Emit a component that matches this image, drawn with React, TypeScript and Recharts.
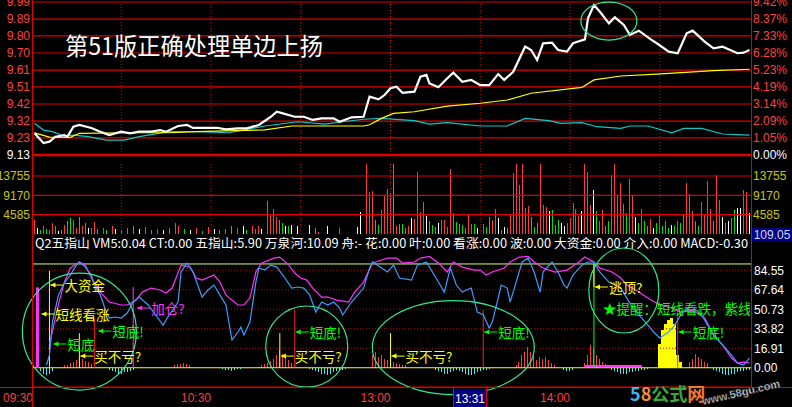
import React from 'react';
import { ComposedChart, Line, Bar, XAxis, YAxis, ReferenceLine, ReferenceDot } from 'recharts';

const N = 240;
const AX_FONT = '"Liberation Sans", Arial, sans-serif';
const CJK = '"Noto Sans CJK SC", "Noto Sans", sans-serif';

// ---------- price panel ----------
const BASE_PRICE = 9.13;
const priceLabels = ['9.13', '9.23', '9.32', '9.42', '9.51', '9.61', '9.70', '9.80', '9.89', '9.99'];
const pctLabels = ['0.00%', '1.05%', '2.09%', '3.14%', '4.19%', '5.23%', '6.28%', '7.33%', '8.37%', '9.42%'];
const gridIdx = [29, 59, 89, 119, 149, 179, 209];

const pricePts: [number, number][] = [
  [0, 9.252], [3, 9.197], [5, 9.205], [7, 9.233], [10, 9.242], [11, 9.233], [13, 9.289], [15, 9.299], [19, 9.282],
  [22, 9.261], [25, 9.242], [29, 9.261], [32, 9.252], [35, 9.261], [39, 9.261], [42, 9.27], [44, 9.261], [48, 9.293],
  [51, 9.299], [53, 9.282], [58, 9.283], [61, 9.283], [64, 9.274], [68, 9.28], [71, 9.28], [75, 9.299], [79, 9.345],
  [81, 9.373], [83, 9.364], [87, 9.345], [90, 9.345], [93, 9.327], [96, 9.336], [100, 9.336], [102, 9.317], [106, 9.342],
  [110, 9.345], [112, 9.458], [115, 9.443], [117, 9.467], [119, 9.505], [121, 9.514], [123, 9.48], [127, 9.486],
  [129, 9.57], [131, 9.58], [132, 9.533], [135, 9.511], [138, 9.561], [140, 9.593], [143, 9.542], [146, 9.552],
  [149, 9.523], [152, 9.523], [155, 9.585], [157, 9.552], [160, 9.598], [164, 9.739], [166, 9.72], [168, 9.664],
  [170, 9.758], [173, 9.761], [175, 9.72], [178, 9.711], [180, 9.758], [184, 9.78], [185, 9.898], [187, 9.973],
  [189, 9.935], [192, 9.87], [194, 9.904], [197, 9.861], [199, 9.805], [202, 9.829], [206, 9.78], [208, 9.758],
  [212, 9.711], [215, 9.702], [218, 9.814], [220, 9.829], [224, 9.767], [227, 9.73], [230, 9.739], [235, 9.702],
  [237, 9.705], [239, 9.72],
];
const avgPts: [number, number][] = [
  [0, 9.254], [5, 9.231], [12, 9.229], [15, 9.252], [32, 9.255], [45, 9.255], [54, 9.261], [77, 9.271], [86, 9.293],
  [110, 9.293], [112, 9.3], [116, 9.336], [120, 9.364], [127, 9.373], [138, 9.405], [149, 9.421], [158, 9.439],
  [166, 9.477], [183, 9.51], [187, 9.552], [196, 9.574], [208, 9.585], [227, 9.604], [239, 9.612],
];
const cyanPts: [number, number][] = [
  [0, 9.308], [3, 9.27], [6, 9.261], [10, 9.237], [13, 9.242], [18, 9.233], [24, 9.214], [30, 9.214], [35, 9.233],
  [45, 9.261], [54, 9.261], [65, 9.255], [77, 9.293], [88, 9.317], [97, 9.304], [103, 9.317], [110, 9.331],
  [116, 9.336], [127, 9.323], [132, 9.304], [138, 9.312], [149, 9.293], [158, 9.293], [164, 9.336], [172, 9.323],
  [176, 9.308], [183, 9.312], [188, 9.289], [196, 9.28], [199, 9.293], [205, 9.293], [213, 9.255], [217, 9.28],
  [223, 9.28], [230, 9.248], [239, 9.242],
];
const topRing: [number, number, number, number] = [192, 9.883, 28, 19];

// ---------- volume panel ----------
const VOL_MAX = 16600;
const volTicks = [4585, 9170, 13755];
const volPts: [number, number, string][] = [
  [0, 3220, 'r'], [1, 1500, 'w'], [2, 1000, 'g'], [3, 2000, 'r'], [4, 1200, 'g'], [5, 1000, 'r'], [6, 2500, 'r'],
  [7, 1800, 'g'], [8, 800, 'w'], [9, 1000, 'g'], [10, 2200, 'r'], [11, 3000, 'g'], [12, 3700, 'g'], [13, 3220, 'r'],
  [14, 1500, 'r'], [15, 3940, 'g'], [16, 2000, 'r'], [17, 2500, 'g'], [18, 1500, 'w'], [19, 1500, 'r'], [20, 2800, 'r'],
  [21, 1200, 'g'], [23, 1500, 'r'], [24, 1000, 'g'], [26, 1800, 'r'], [27, 1200, 'w'], [29, 900, 'g'], [31, 1500, 'r'],
  [33, 2000, 'g'], [35, 1300, 'w'], [37, 1600, 'r'], [39, 1000, 'g'], [41, 1200, 'r'], [43, 900, 'w'], [45, 1500, 'g'],
  [47, 2600, 'r'], [48, 1800, 'r'], [50, 1200, 'g'], [52, 1000, 'w'], [54, 1400, 'r'], [56, 800, 'g'], [58, 1700, 'r'],
  [60, 1100, 'w'], [62, 900, 'g'], [64, 1300, 'r'], [66, 2000, 'g'], [68, 1500, 'r'], [70, 1800, 'w'], [71, 1000, 'g'],
  [73, 1790, 'r'], [74, 1240, 'r'], [75, 1790, 'r'], [76, 1150, 'w'], [78, 7760, 'r'], [79, 4180, 'r'], [80, 5850, 'r'],
  [81, 3940, 'r'], [82, 3220, 'g'], [83, 2500, 'g'], [84, 1790, 'w'], [85, 1790, 'g'], [86, 2030, 'w'], [88, 1790, 'w'],
  [92, 2030, 'w'], [94, 1430, 'g'], [95, 500, 'r'], [98, 1790, 'w'], [102, 1310, 'r'], [108, 1550, 'w'], [109, 5130, 'w'],
  [111, 16600, 'r'], [112, 9900, 'r'], [113, 10140, 'r'], [114, 3220, 'g'], [115, 2030, 'g'], [116, 5610, 'r'],
  [117, 8950, 'r'], [118, 10620, 'r'], [119, 9670, 'r'], [120, 16600, 'g'], [121, 1790, 'r'], [122, 2270, 'g'],
  [123, 2270, 'g'], [124, 1310, 'g'], [125, 1790, 'r'], [126, 3700, 'w'], [127, 3460, 'r'], [128, 14700, 'r'],
  [129, 5130, 'r'], [130, 7520, 'r'], [131, 4180, 'w'], [132, 2980, 'g'], [133, 2030, 'g'], [134, 1550, 'g'],
  [135, 2500, 'w'], [136, 3220, 'r'], [137, 3220, 'r'], [138, 1550, 'r'], [139, 15400, 'r'], [140, 4900, 'r'],
  [141, 2740, 'g'], [142, 2270, 'g'], [143, 2030, 'g'], [144, 1310, 'g'], [145, 4650, 'r'], [146, 2270, 'r'],
  [147, 2270, 'g'], [148, 1310, 'w'], [150, 2270, 'r'], [151, 1550, 'g'], [152, 3940, 'g'], [153, 3220, 'r'],
  [154, 5850, 'r'], [155, 3700, 'w'], [156, 950, 'g'], [157, 1550, 'w'], [158, 1310, 'g'], [159, 4420, 'r'],
  [160, 14450, 'r'], [161, 16600, 'r'], [162, 11580, 'r'], [163, 16600, 'r'], [164, 6090, 'r'], [165, 6570, 'r'],
  [166, 3940, 'g'], [167, 1550, 'g'], [168, 2500, 'g'], [169, 16600, 'r'], [170, 6800, 'r'], [171, 6330, 'r'],
  [172, 5370, 'w'], [173, 5610, 'g'], [174, 2030, 'g'], [175, 3220, 'g'], [176, 2500, 'w'], [177, 1790, 'w'],
  [178, 2500, 'r'], [179, 3700, 'r'], [180, 7280, 'r'], [181, 5850, 'r'], [182, 4180, 'r'], [183, 5370, 'w'],
  [184, 16600, 'r'], [185, 14700, 'r'], [186, 6800, 'r'], [187, 10380, 'w'], [188, 5370, 'g'],
  [189, 3000, 'r'], [190, 5600, 'r'], [191, 2000, 'g'], [192, 3200, 'g'], [193, 14000, 'r'], [194, 16600, 'r'],
  [195, 9000, 'r'], [196, 12000, 'r'], [197, 7000, 'r'], [198, 5000, 'g'], [199, 13000, 'r'], [200, 9000, 'r'],
  [201, 4000, 'w'], [202, 2500, 'g'], [203, 6000, 'r'], [204, 3000, 'g'], [205, 2000, 'g'], [206, 3500, 'r'],
  [207, 1500, 'w'], [208, 2500, 'g'], [209, 4500, 'r'], [210, 2000, 'g'], [211, 3000, 'r'], [212, 1500, 'g'],
  [213, 2200, 'w'], [214, 1800, 'g'], [215, 3200, 'r'], [216, 2500, 'g'], [217, 4800, 'r'], [218, 12000, 'r'],
  [219, 9500, 'r'], [220, 5500, 'r'], [221, 3000, 'g'], [222, 2000, 'g'], [223, 7500, 'r'], [224, 4500, 'r'],
  [225, 12500, 'r'], [226, 6000, 'r'], [227, 3000, 'g'], [228, 14000, 'r'], [229, 8000, 'r'], [230, 4000, 'w'],
  [231, 2500, 'g'], [232, 3000, 'w'],
  [233, 3700, 'g'], [234, 5610, 'g'], [235, 6090, 'w'], [236, 6090, 'w'], [237, 10380, 'r'], [238, 9900, 'r'], [239, 5000, 'w'],
];

// ---------- indicator panel ----------
const IND_MIN = -16.7;
const IND_MAX = 96.9;
const indTicks = [0, 16.91, 33.82, 50.73, 67.64, 84.55];
const indUpper = 90;
const timeTicks = [0, 59, 119, 179];
const timeLabels = ['09:30', '10:30', '13:00', '14:00'];

const bluePts: [number, number][] = [
  [4, 2.3], [5, 11], [6, 39.6], [8, 63], [10, 73.5], [12, 80.4], [14, 89], [15, 91.7], [17, 87.3], [19, 80.4],
  [20, 71.7], [22, 63], [24, 48.3], [25, 43.1], [27, 44], [29, 43.1], [31, 47.4], [33, 57], [35, 61.3], [38, 54.4],
  [41, 44], [43, 37], [45, 45.7], [48, 57], [49, 83], [51, 90.8], [53, 83], [56, 61.3], [58, 67.4], [60, 71.7],
  [62, 63], [64, 54.4], [66, 24], [68, 31], [69, 35.3], [70, 28.4], [72, 39.6], [74, 74.3], [75, 86.5], [77, 84.7],
  [79, 89], [81, 87.3], [83, 80.4], [86, 69.1], [88, 70], [90, 69.1], [92, 63], [94, 48.3], [96, 57], [98, 54.4],
  [100, 57], [102, 51.8], [103, 45.7], [106, 57], [108, 63], [110, 69.1], [112, 86.5], [113, 91.7], [116, 86.5],
  [118, 83], [120, 89], [122, 77.8], [126, 76], [128, 89], [131, 91.7], [135, 74.3], [137, 65.6], [139, 86.5],
  [141, 71.7], [143, 65.6], [146, 69.1], [148, 48.3], [150, 46], [152, 34.4], [153, 39.6], [155, 60.4], [156, 71.7],
  [158, 69.1], [159, 57], [160, 65.6], [163, 91.7], [165, 95], [167, 83], [169, 65.6], [170, 83], [173, 91.7],
  [175, 83], [177, 71.7], [178, 69.1], [180, 80.4], [183, 89], [185, 91.7], [187, 91.7], [189, 83], [192, 74.3],
  [194, 71.7], [196, 69.1], [198, 60.4], [200, 51.8], [203, 43.1], [205, 37], [207, 31], [209, 25.8], [212, 31],
  [214, 37], [216, 45.7], [218, 51.8], [220, 52.6], [223, 45.7], [225, 37], [227, 28.4], [230, 19.7], [233, 11],
  [235, 4], [237, 2.3], [239, 8.4],
];
const magentaPts: [number, number][] = [
  [5, 20], [8, 55], [10, 74.3], [12, 86.5], [15, 91.7], [17, 89], [19, 77.8], [22, 65.6], [25, 57], [29, 54.4],
  [31, 54.4], [34, 58.7], [36, 65.6], [39, 69.1], [42, 67.4], [44, 64.8], [46, 69.1], [49, 89], [52, 87.3], [54, 77.8],
  [56, 76], [60, 80.4], [62, 74.3], [64, 63], [68, 54.4], [70, 54.4], [72, 60.4], [74, 83], [76, 90.8], [80, 95.1],
  [82, 96], [85, 89], [87, 82.1], [89, 77.8], [91, 76], [93, 69.1], [96, 61.3], [98, 61.3], [101, 58.7], [105, 57],
  [107, 65.6], [110, 74.3], [113, 90.8], [116, 93.4], [118, 95.1], [121, 95.1], [123, 90.8], [127, 91.7], [129, 95.1],
  [132, 96.5], [135, 90.8], [138, 83], [140, 91.7], [143, 87.3], [147, 84.7], [149, 84.7], [151, 80.4], [153, 83],
  [157, 86.5], [159, 91.7], [162, 96], [165, 96.5], [167, 91.7], [170, 86.5], [174, 83], [178, 84.7], [182, 91.7],
  [184, 96], [187, 91.7], [189, 86.5], [193, 83], [196, 77.8], [198, 71.7], [202, 65.6], [205, 60.4], [209, 54.4],
  [213, 51.8], [216, 48.3], [220, 50], [224, 43.1], [227, 28.4], [230, 19.7], [233, 8.4], [235, 4], [237, 4.9], [239, 4],
];
const histPts: [number, number, string][] = [
  [2, -3, 'c'], [3, -5, 'c'], [4, -6, 'c'], [5, -5, 'c'], [6, -3, 'c'],
  [10, 2, 'r'], [11, 2, 'r'], [12, 4, 'r'], [13, 5, 'r'], [14, 7, 'r'], [15, 9, 'r'], [16, 8, 'r'], [17, 6, 'r'], [18, 5, 'r'], [19, 3, 'r'],
  [25, -2, 'c'], [26, -3, 'c'], [27, -4, 'c'], [28, -5, 'c'], [29, -5, 'c'], [30, -4, 'c'], [31, -4, 'c'], [32, -3, 'c'], [33, -2, 'c'],
  [47, 2, 'r'], [48, 3, 'r'], [49, 3, 'r'], [50, 4, 'r'], [51, 3, 'r'], [52, 2, 'r'],
  [63, -1, 'c'], [64, -2, 'c'], [65, -2, 'c'], [66, -3, 'c'], [67, -2, 'c'], [68, -1, 'c'], [69, -1, 'c'],
  [75, 1, 'r'], [76, 2, 'r'], [77, 3, 'r'], [78, 4, 'r'], [79, 6, 'r'], [80, 8, 'r'], [81, 11, 'r'], [82, 15, 'r'], [83, 12, 'r'],
  [84, 9, 'r'], [85, 7, 'r'], [86, 4, 'r'], [87, 2, 'r'],
  [92, -1, 'c'], [93, -2, 'c'], [94, -3, 'c'], [95, -4, 'c'], [96, -5, 'c'], [97, -5, 'c'], [98, -6, 'c'], [99, -5, 'c'],
  [100, -4, 'c'], [101, -3, 'c'], [102, -2, 'c'], [103, -2, 'c'], [104, -1, 'c'],
  [113, 11, 'r'], [114, 14, 'r'], [115, 9.5, 'r'], [116, 11, 'r'], [117, 8, 'r'], [118, 6.7, 'r'], [119, 6, 'r'],
  [120, 4.7, 'r'], [121, 4, 'r'], [122, 3, 'r'], [123, 2.3, 'r'], [124, 2, 'r'],
  [134, -2, 'c'], [135, -3, 'c'], [136, -4, 'c'], [137, -5, 'c'], [138, -5, 'c'], [139, -4, 'c'], [140, -3, 'c'],
  [141, -2, 'c'], [142, -3, 'c'], [143, -4, 'c'], [144, -5, 'c'], [145, -6, 'c'], [146, -6, 'c'], [147, -5, 'c'],
  [148, -4, 'c'], [149, -3, 'c'], [150, -2, 'c'], [151, -2, 'c'], [152, -1, 'c'],
  [161, 2.3, 'r'], [162, 5, 'r'], [163, 11, 'r'], [164, 14, 'r'], [165, 18, 'r'], [166, 14, 'r'], [167, 11, 'r'],
  [168, 7, 'r'], [169, 9.5, 'r'], [170, 8, 'r'], [171, 9.5, 'r'], [172, 7, 'r'], [173, 4, 'r'], [174, 2, 'r'],
  [177, -2, 'c'], [178, -3, 'c'], [179, -3, 'c'], [180, -2, 'c'],
  [184, 4, 'r'], [185, 11, 'r'], [186, 20, 'r'], [187, 17, 'r'], [188, 11, 'r'], [189, 8, 'r'], [190, 5, 'r'], [191, 3, 'r'],
  [193, -2, 'c'], [194, -3, 'c'], [195, -4, 'c'], [196, -5, 'c'], [197, -5, 'c'], [198, -5, 'c'], [199, -4, 'c'],
  [200, -4, 'c'], [201, -3, 'c'], [202, -3, 'c'], [203, -2, 'c'], [204, -2, 'c'], [205, -1, 'c'],
  [209, 21, 'y'], [210, 33, 'y'], [211, 38, 'y'], [212, 41, 'y'], [213, 43, 'y'], [214, 38, 'y'], [215, 11, 'y'], [216, 5, 'y'],
  [219, 5, 'r'], [220, 8, 'r'], [221, 12, 'r'], [222, 9.5, 'r'], [223, 8, 'r'], [224, 5, 'r'], [225, 4, 'r'],
  [227, -2, 'c'], [228, -3, 'c'], [229, -4, 'c'], [230, -5, 'c'], [231, -6, 'c'], [232, -6, 'c'], [233, -5, 'c'],
  [234, -5, 'c'], [235, -4, 'c'], [236, -3, 'c'], [237, -3, 'c'], [238, -2, 'c'], [239, -2, 'c'],
];
// vertical signal lines: index, from, to, colour, width
const signals: [number, number, number, string, number][] = [
  [1, 0, 69.7, '#ff30ff', 3], [5, 0, 84, '#ffff00', 1], [15, 0, 30, '#ffff00', 1], [20, 0, 43, '#ff2020', 1],
  [33, 0, 70, '#ff30ff', 1], [82, 0, 30, '#ffff00', 1], [87, 0, 50, '#ff2020', 1], [119, 0, 30, '#ffff00', 1],
  [150, 0, 50, '#ff2020', 1], [187, 0, 90, '#00ff00', 1], [187, 70, 90, '#ffff00', 1], [215, 0, 50, '#ff2020', 1],
];
const magentaBase: [number, number, number] = [184, 203, 1.5];
// annotations: index, value, text, colour, arrow
const notes: [number, number, string, string, boolean][] = [
  [2, 46.6, '短线看涨', '#ffff00', true],
  [5, 71.7, '大资金', '#ffff00', true],
  [6, 20.6, '短底', '#00ff00', true],
  [15, 10.1, '买不亏?', '#ffff00', true],
  [21, 31.8, '短底!', '#00ff00', true],
  [34, 51.8, '加仓?', '#ff30ff', true],
  [82, 10.1, '买不亏?', '#ffff00', true],
  [87, 31, '短底!', '#00ff00', true],
  [119, 10.1, '买不亏?', '#ffff00', true],
  [150, 31, '短底!', '#00ff00', true],
  [187, 70, '逃顶?', '#ffff00', true],
  [190, 51.8, '★提醒：短线看跌，紫线', '#00ff00', false],
  [215, 31, '短底!', '#00ff00', true],
];
// rings: index, value, rx, ry
const rings: [number, number, number, number][] = [
  [15, 31.4, 57, 58.5], [91, 18.4, 41, 40.5], [140, 17.5, 81, 47], [197, 67, 35, 42.5],
];

const titleText = '第51版正确处理单边上扬';
const infoText = 'Q2五指山  VM5:0.04  CT:0.00  五指山:5.90  万泉河:10.09  舟:-  花:0.00  叶:0.00  看涨:0.00  波:0.00  大资金:0.00  介入:0.00  MACD:-0.30';
const cursorValue = '109.05';
const cursorTime = '13:31';

// ---------- table ----------
const rows: any[] = Array.from({ length: N }, (_, i) => ({
  i, price: null, avg: null, cyan: null, vol: 0, vc: 'w', blue: null, mag: null, hist: 0, hc: 'r',
}));
pricePts.forEach(([i, v]) => (rows[i].price = v));
avgPts.forEach(([i, v]) => (rows[i].avg = v));
cyanPts.forEach(([i, v]) => (rows[i].cyan = v));
volPts.forEach(([i, v, c]) => { rows[i].vol = v; rows[i].vc = c; });
bluePts.forEach(([i, v]) => (rows[i].blue = v));
magentaPts.forEach(([i, v]) => (rows[i].mag = v));
histPts.forEach(([i, v, c]) => { rows[i].hist = v; rows[i].hc = c; });

const priceTickVals = pctLabels.map((s) => BASE_PRICE * (1 + parseFloat(s) / 100));
const PRICE_MAX = priceTickVals[priceTickVals.length - 1];

const VOL_COLORS: Record<string, string> = { r: '#ff3c3c', g: '#00e000', w: '#ffffff' };
const HIST_COLORS: Record<string, string> = { r: '#ff3c3c', c: '#40e8ff', y: '#ffff00' };
const RED = '#e00000';

const PriceTickL = (p: any) => (
  <text x={30} y={p.y} dy="0.36em" textAnchor="end" fontSize={12} fontFamily={AX_FONT}
    fill={p.index === 0 ? '#ffffff' : '#ff4040'}>{priceLabels[p.index]}</text>
);
const PriceTickR = (p: any) => (
  <text x={753} y={p.y} dy="0.36em" textAnchor="start" fontSize={12} fontFamily={AX_FONT}
    fill={p.index === 0 ? '#ffffff' : '#ff4040'}>{pctLabels[p.index]}</text>
);
const VolTickL = (p: any) => (
  <text x={30} y={p.y} dy="0.36em" textAnchor="end" fontSize={12} fontFamily={AX_FONT} fill="#c8c800">{p.payload.value}</text>
);
const VolTickR = (p: any) => (
  <text x={753} y={p.y} dy="0.36em" textAnchor="start" fontSize={12} fontFamily={AX_FONT} fill="#c8c800">{p.payload.value}</text>
);
const IndTickR = (p: any) => (
  <text x={754} y={p.y} dy="0.36em" textAnchor="start" fontSize={12} fontFamily={AX_FONT} fill="#ffffff">{p.payload.value.toFixed(2)}</text>
);
const TimeTick = (p: any) => {
  const k = timeTicks.indexOf(p.payload.value);
  return (
    <text x={k === 0 ? 33 : p.x} y={166} textAnchor="end" fontSize={12} fontFamily={AX_FONT} fill="#ff3c3c">{timeLabels[k]}</text>
  );
};

const VolShape = (p: any) => {
  const { x, y, width, height, payload } = p;
  if (!payload || !payload.vol) return <g />;
  return <rect x={Math.round(x + width / 2 - 0.5)} y={y} width={1} height={height} fill={VOL_COLORS[payload.vc]} shapeRendering="crispEdges" />;
};
const HistShape = (p: any) => {
  const { x, y, width, height, payload } = p;
  if (!payload || !payload.hist) return <g />;
  const w = payload.hc === 'y' ? 3 : 1;
  const top = Math.min(y, y + height);
  const h = Math.abs(height);
  return <rect x={Math.round(x + width / 2 - w / 2)} y={top} width={w} height={h} fill={HIST_COLORS[payload.hc]} shapeRendering="crispEdges" />;
};

const ringShape = (rx: number, ry: number) => (p: any) =>
  p.cx == null ? <g /> : <ellipse cx={p.cx} cy={p.cy} rx={rx} ry={ry} fill="none" stroke="#30e890" strokeWidth={1.2} />;

const noteShape = (text: string, color: string, arrow: boolean) => (p: any) => {
  if (p.cx == null) return <g />;
  const x0 = p.cx + 1;
  return (
    <g clipPath="url(#clipInd)">
      {arrow && <line x1={x0} y1={p.cy} x2={x0 + 13} y2={p.cy} stroke={color} strokeWidth={1} />}
      {arrow && <polygon points={`${x0},${p.cy} ${x0 + 5},${p.cy - 2.5} ${x0 + 5},${p.cy + 2.5}`} fill={color} />}
      <text x={arrow ? x0 + 14 : p.cx} y={p.cy} dominantBaseline="central" fill={color} fontSize={13.5} fontFamily={CJK}>{text}</text>
    </g>
  );
};

export default function App() {
  return (
    <div style={{ position: 'fixed', left: 0, top: 0, width: 792, height: 407, background: '#000', overflow: 'hidden' }}>
      {/* price panel */}
      <div style={{ position: 'absolute', left: 0, top: 0 }}>
        <ComposedChart width={792} height={172} data={rows} margin={{ top: 2, right: 0, bottom: 17, left: 0 }}>
          <XAxis dataKey="i" type="category" scale="band" hide />
          <YAxis yAxisId="p" orientation="left" width={33} type="number" domain={[BASE_PRICE, PRICE_MAX]} allowDataOverflow
            ticks={priceTickVals} interval={0} tick={PriceTickL} axisLine={false} tickLine={false} />
          <YAxis yAxisId="pr" orientation="right" width={41} type="number" domain={[BASE_PRICE, PRICE_MAX]} allowDataOverflow
            ticks={priceTickVals} interval={0} tick={PriceTickR} axisLine={false} tickLine={false} />
          {priceTickVals.map((v, k) => (
            <ReferenceLine key={'ph' + k} yAxisId="p" y={v} stroke={RED} strokeWidth={k === 0 ? 2.5 : 1.2} />
          ))}
          {gridIdx.map((g) => (
            <ReferenceLine key={'pv' + g} yAxisId="p" x={g} stroke={RED} strokeDasharray="1 2" />
          ))}
          <Line yAxisId="p" dataKey="cyan" stroke="#10c8c8" strokeWidth={1.2} dot={false} connectNulls isAnimationActive={false} />
          <Line yAxisId="p" dataKey="avg" stroke="#ffff00" strokeWidth={1.2} dot={false} connectNulls isAnimationActive={false} />
          <Line yAxisId="p" dataKey="price" stroke="#ffffff" strokeWidth={2.2} dot={false} connectNulls isAnimationActive={false} />
          <ReferenceDot yAxisId="p" x={topRing[0]} y={topRing[1]} r={1} shape={ringShape(topRing[2], topRing[3])} />
        </ComposedChart>
      </div>

      {/* volume panel */}
      <div style={{ position: 'absolute', left: 0, top: 164 }}>
        <ComposedChart width={792} height={70} data={rows} margin={{ top: 0, right: 0, bottom: 0, left: 0 }}>
          <XAxis dataKey="i" type="category" scale="band" hide />
          <YAxis yAxisId="v" orientation="left" width={33} type="number" domain={[0, VOL_MAX]} allowDataOverflow
            ticks={volTicks} interval={0} tick={VolTickL} axisLine={false} tickLine={false} />
          <YAxis yAxisId="vr" orientation="right" width={41} type="number" domain={[0, VOL_MAX]} allowDataOverflow
            ticks={volTicks} interval={0} tick={VolTickR} axisLine={false} tickLine={false} />
          {volTicks.map((v) => (
            <ReferenceLine key={'vh' + v} yAxisId="v" y={v} stroke={RED} strokeWidth={1.2} />
          ))}
          {gridIdx.map((g) => (
            <ReferenceLine key={'vv' + g} yAxisId="v" x={g} stroke={RED} strokeDasharray="1 2" />
          ))}
          <Bar yAxisId="v" dataKey="vol" barSize={1} shape={VolShape} isAnimationActive={false} />
        </ComposedChart>
      </div>

      {/* indicator panel */}
      <div style={{ position: 'absolute', left: 0, top: 236 }}>
        <ComposedChart width={792} height={171} data={rows} margin={{ top: 20, right: 0, bottom: 0, left: 33 }}>
          <defs>
            <clipPath id="clipInd"><rect x={0} y={0} width={750} height={171} /></clipPath>
          </defs>
          <XAxis dataKey="i" type="category" scale="band" ticks={timeTicks} interval={0} height={20}
            axisLine={{ stroke: RED }} tickLine={false} tick={TimeTick} />
          <YAxis yAxisId="s" orientation="right" width={41} type="number" domain={[IND_MIN, IND_MAX]} allowDataOverflow
            ticks={indTicks} interval={0} tick={IndTickR} axisLine={false} tickLine={false} />
          {indTicks.slice(1).map((v) => (
            <ReferenceLine key={'ih' + v} yAxisId="s" y={v} stroke="#c00000" strokeDasharray="1 2" />
          ))}
          <ReferenceLine yAxisId="s" y={indUpper} stroke="#d8ff70" />
          <ReferenceLine yAxisId="s" y={0} stroke="#ffff00" />
          <Bar yAxisId="s" dataKey="hist" barSize={3} shape={HistShape} isAnimationActive={false} />
          <ReferenceLine yAxisId="s" segment={[{ x: magentaBase[0], y: magentaBase[2] }, { x: magentaBase[1], y: magentaBase[2] }]}
            stroke="#ff30ff" strokeWidth={2} />
          {signals.map(([i, a, b, c, w], k) => (
            <ReferenceLine key={'sg' + k} yAxisId="s" segment={[{ x: i, y: a }, { x: i, y: b }]} stroke={c} strokeWidth={w} />
          ))}
          <Line yAxisId="s" dataKey="mag" stroke="#ff30ff" strokeWidth={1.2} dot={false} connectNulls isAnimationActive={false} />
          <Line yAxisId="s" dataKey="blue" stroke="#3c9cff" strokeWidth={1.2} dot={false} connectNulls isAnimationActive={false} />
          {rings.map(([i, v, rx, ry], k) => (
            <ReferenceDot key={'rg' + k} yAxisId="s" x={i} y={v} r={1} shape={ringShape(rx, ry)} />
          ))}
          {notes.map(([i, v, t, c, a], k) => (
            <ReferenceDot key={'nt' + k} yAxisId="s" x={i} y={v} r={1} shape={noteShape(t, c, a)} />
          ))}
        </ComposedChart>
      </div>

      {/* overlay: frame, title, info line, cursor boxes, watermark */}
      <svg width={792} height={407} style={{ position: 'absolute', left: 0, top: 0, pointerEvents: 'none' }}>
        <line x1={32.5} y1={0} x2={32.5} y2={407} stroke={RED} />
        <line x1={751.5} y1={0} x2={751.5} y2={388} stroke={RED} />
        <line x1={0} y1={387.5} x2={792} y2={387.5} stroke={RED} />
        <text x={65} y={55} fill="#ffffff" fontSize={24} fontFamily={CJK} textLength={258} lengthAdjust="spacingAndGlyphs">{titleText}</text>
        <text x={35} y={248} fill="#ffffff" fontSize={12.5} fontFamily={CJK} textLength={713} lengthAdjust="spacingAndGlyphs">{infoText}</text>
        <rect x={752} y={228} width={40} height={13} fill="#000080" />
        <text x={772} y={239} textAnchor="middle" fill="#d0dcff" fontSize={12} fontFamily={AX_FONT}>{cursorValue}</text>
        <rect x={453} y={389} width={34} height={18} fill="#000080" />
        <line x1={453.5} y1={388} x2={453.5} y2={407} stroke={RED} />
        <line x1={486.5} y1={388} x2={486.5} y2={407} stroke={RED} />
        <text x={470} y={403} textAnchor="middle" fill="#ffffff" fontSize={12} fontFamily={AX_FONT}>{cursorTime}</text>
        <text x={630} y={401} fontSize={18} fontWeight="bold" fontFamily={CJK}>
          <tspan fill="#40b4ec">5</tspan><tspan fill="#f08c32">8</tspan><tspan fill="#3ca83c">公式</tspan><tspan fill="#f07832">网</tspan>
        </text>
        <text x={703} y={405} transform="rotate(-13 703 405)" fontSize={11} fontWeight="bold" fontFamily={AX_FONT}
          fill="#f0f0f0" stroke="#202020" strokeWidth={0.5}>www.58gu.com</text>
      </svg>
    </div>
  );
}
